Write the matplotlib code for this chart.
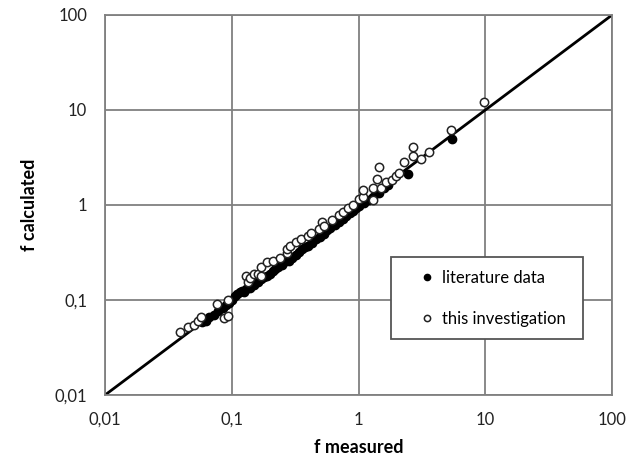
import numpy as np
import matplotlib.pyplot as plt
from matplotlib.ticker import FixedLocator, FixedFormatter, NullLocator

# literature data (filled circles)
lit_x = [0.058, 0.062, 0.066, 0.072, 0.078, 0.085, 0.090, 0.095, 0.10, 0.105, 0.11, 0.115, 0.12,
         0.125, 0.13, 0.14, 0.15, 0.16, 0.17, 0.18, 0.19, 0.20, 0.21, 0.22, 0.23, 0.25, 0.26, 0.28,
         0.30, 0.32, 0.34, 0.36, 0.38, 0.40, 0.43, 0.46, 0.50, 0.53, 0.56, 0.60, 0.65, 0.70, 0.75,
         0.80, 0.85, 0.90, 0.95, 1.0, 1.1, 1.2, 1.3, 1.45, 1.6, 1.7, 2.45, 5.5]
lit_y = [0.058, 0.060, 0.066, 0.070, 0.076, 0.082, 0.088, 0.093, 0.10, 0.11, 0.115, 0.12, 0.125,
         0.12, 0.13, 0.135, 0.145, 0.155, 0.165, 0.175, 0.18, 0.19, 0.20, 0.21, 0.22, 0.235, 0.25, 0.26,
         0.28, 0.30, 0.32, 0.34, 0.36, 0.37, 0.40, 0.44, 0.46, 0.50, 0.54, 0.57, 0.62, 0.67, 0.72,
         0.77, 0.82, 0.86, 0.92, 0.97, 1.05, 1.12, 1.20, 1.35, 1.50, 1.62, 2.1, 5.0]

# this investigation (open circles)
inv_x = [0.039, 0.045, 0.050, 0.054, 0.057, 0.076, 0.086, 0.094, 0.094, 0.13, 0.135, 0.14, 0.15,
         0.16, 0.17, 0.17, 0.19, 0.21, 0.24, 0.27, 0.27, 0.29, 0.32, 0.35, 0.40, 0.42, 0.49, 0.51,
         0.53, 0.62, 0.70, 0.76, 0.83, 0.91, 1.0, 1.09, 1.09, 1.29, 1.29, 1.39, 1.44, 1.49, 1.66,
         1.82, 1.96, 2.07, 2.27, 2.67, 2.7, 3.1, 3.57, 5.4, 9.8]
inv_y = [0.046, 0.052, 0.055, 0.060, 0.066, 0.091, 0.065, 0.068, 0.10, 0.18, 0.155, 0.17, 0.19,
         0.19, 0.22, 0.18, 0.25, 0.26, 0.28, 0.31, 0.34, 0.37, 0.41, 0.44, 0.47, 0.51, 0.56, 0.66,
         0.60, 0.70, 0.78, 0.84, 0.93, 1.0, 1.16, 1.21, 1.44, 1.13, 1.51, 1.88, 2.5, 1.51, 1.75,
         1.83, 2.02, 2.17, 2.83, 4.1, 3.28, 3.05, 3.6, 6.2, 12.1]

ticks = [0.01, 0.1, 1, 10, 100]
tick_labels = ['0,01', '0,1', '1', '10', '100']

plt.rcParams['font.family'] = ['Lato', 'DejaVu Sans']

fig = plt.figure(figsize=(6.33, 4.68), dpi=100)
ax = fig.add_axes([0.166, 0.156, 0.801, 0.812])
ax.set_xscale('log')
ax.set_yscale('log')
ax.set_xlim(0.01, 100)
ax.set_ylim(0.01, 100)

ax.plot([0.01, 100], [0.01, 100], c='k', lw=2, zorder=2)
ax.plot(lit_x, lit_y, marker='o', linestyle='None', ms=6, mfc='k', mec='k',
        label='literature data', zorder=3)
ax.plot(inv_x, inv_y, marker='o', linestyle='None', ms=6, mfc='white', mec='#222222', mew=1.1,
        label='this investigation', zorder=4)

for a in (ax.xaxis, ax.yaxis):
    a.set_major_locator(FixedLocator(ticks))
    a.set_major_formatter(FixedFormatter(tick_labels))
    a.set_minor_locator(NullLocator())
ax.grid(True, color='#808080', lw=1.3, zorder=0)
ax.set_axisbelow(True)
for s in ax.spines.values():
    s.set_color('#808080')
    s.set_linewidth(1.3)
ax.tick_params(axis='x', length=0, pad=12, labelsize=12, colors='#222222')
ax.tick_params(axis='y', length=0, pad=13, labelsize=12, colors='#222222')

ax.set_xlabel('f measured', fontsize=13, fontweight='bold', labelpad=8)
ax.set_ylabel('f calculated', fontsize=13, fontweight='bold', labelpad=12)

leg = ax.legend(loc='lower left', bbox_to_anchor=(0.564, 0.147, 0.379, 0.211), mode='expand',
                fancybox=False, framealpha=1, edgecolor='#555555', fontsize=12,
                handlelength=2.8, handletextpad=-0.5, labelspacing=1.5, borderpad=0.75,
                markerscale=0.75, borderaxespad=0)
leg.get_frame().set_linewidth(1.3)
leg.set_zorder(5)

fig.savefig('out.png', dpi=100)
